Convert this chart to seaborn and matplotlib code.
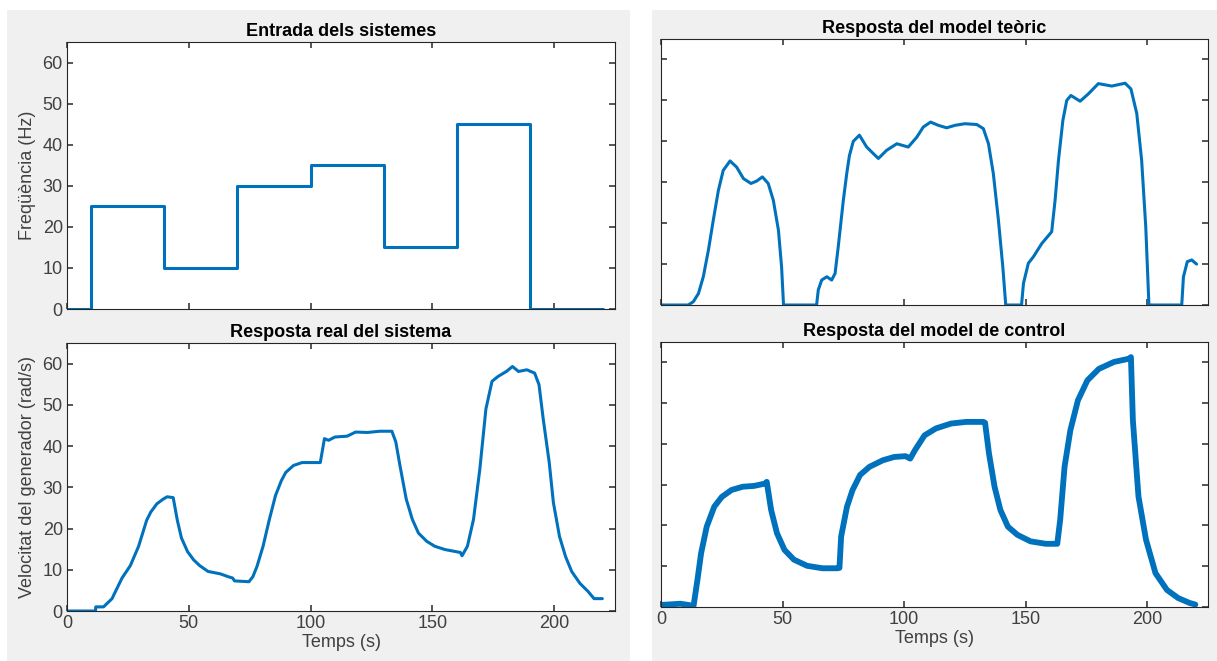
import numpy as np
import pandas as pd
import matplotlib
matplotlib.use("Agg")
import matplotlib.pyplot as plt
import seaborn as sns
from matplotlib.patches import Rectangle

# --- dades llegides del gràfic ---
# entrada (esglaons)
t_entrada = [0, 10, 40, 70, 100, 130, 160, 190, 220]
f_entrada = [0, 25, 10, 30, 35, 15, 45, 0, 0]

# resposta real del sistema
t_real = [0, 11.7, 11.8, 15, 18.5, 19.3, 22.6, 26, 29.4, 32.7, 34.4, 36.9, 39.4, 41.1, 43.6,
          45.3, 47, 49.5, 52, 54.5, 57.9, 63, 66.3, 68, 68.8, 74.7, 76.3, 78, 80.5, 83,
          85.6, 88, 89.8, 93, 96.5, 100.8, 104, 105.7, 107.4, 110, 115, 118.5, 123.3,
          128.4, 133.4, 135, 136.7, 139.3, 141.8, 144.3, 147.7, 151, 155.2, 161.5, 162.2,
          164.4, 166.9, 169.5, 172, 174.5, 177, 180.4, 182.9, 185.4, 188.8, 192, 193.8,
          195.5, 198, 199.7, 202.2, 204.7, 207.2, 210.6, 214, 216.4, 219.8]
v_real = [0, 0, 1, 1, 3, 4, 8, 11, 15.7, 22, 24, 26, 27.1, 27.7, 27.5,
          22, 17.7, 14.4, 12.4, 11, 9.6, 9, 8.3, 8, 7.3, 7.1, 8.3, 10.8, 15.7, 22,
          28, 31.6, 33.6, 35.3, 36, 36, 36, 41.8, 41.4, 42.2, 42.4, 43.4, 43.3,
          43.6, 43.6, 41, 35.3, 27.1, 22.2, 18.9, 16.9, 15.7, 14.9, 14.2, 13.4,
          15.7, 22.2, 34.4, 49, 55.7, 56.9, 58.1, 59.3, 58.1, 58.5, 57.7, 54.9,
          46.7, 36, 26.3, 18.1, 13.2, 9.6, 6.7, 4.7, 3, 3]

# resposta del model teòric
t_teoric = [0, 11.2, 13.3, 15.4, 17.4, 19.5, 21.5, 23.6, 25.6, 28.4, 31.1, 33.9, 37, 39.4,
            41.7, 44.1, 46.2, 48.3, 49.6, 50.4, 64, 64.7, 66.1, 68.2, 70.2, 71.6, 72.9,
            75, 76.4, 77.5, 79.1, 81.6, 84.6, 89.4, 92.8, 97, 101.7, 105.2, 107.9, 110.9,
            114.1, 117.5, 120.9, 125, 129.9, 132.6, 134.7, 136.7, 138.8, 140.6, 141.8,
            148.3, 149.1, 151.1, 153.2, 156.6, 160.7, 162.1, 163.5, 165.3, 166.9, 168.6,
            172.4, 175.8, 179.9, 185.4, 190.9, 193.3, 195.7, 197.7, 199.4, 200.7, 214.2,
            214.9, 216.5, 218.3, 220.3]
v_teoric = [0, 0, 0.8, 2.8, 6.9, 13.4, 20.7, 28, 32.9, 35.2, 33.7, 30.9, 29.7, 30.3,
            31.3, 29.7, 25.6, 18.3, 9.3, 0, 0, 3.7, 6.1, 6.9, 6.1, 7.7, 14.2,
            25.6, 32.1, 36.5, 40, 41.5, 38.6, 35.8, 37.8, 39.4, 38.6, 41, 43.5, 44.7,
            43.9, 43.3, 43.9, 44.3, 44.1, 43.1, 39.4, 32.1, 20.7, 9.3, 0,
            0, 5.3, 10.2, 11.8, 15, 17.9, 25.6, 35.4, 45.1, 50, 51.2,
            49.8, 51.6, 54.1, 53.5, 54.2, 52.8, 46.8, 35.4, 19.1, 0, 0,
            6.9, 10.6, 11, 10]

# resposta del model de control
t_control = [0, 8, 13.4, 15, 16.5, 18.8, 21.9, 25, 29, 33.6, 38.3, 43, 43.5, 45.3, 47.7, 50.8,
             54.7, 60.1, 66.4, 72.6, 73.4, 74.1, 76.5, 78.8, 81.9, 85.8, 91.3, 95.9, 100.6,
             102.5, 104.5, 108.4, 113.1, 119.3, 125.5, 132.6, 133.3, 134.9, 137.2, 139.6,
             142.7, 146.6, 152, 158.3, 163, 164.2, 166, 168.4, 171.5, 175.4, 180.1, 186.3,
             192.5, 193.3, 194.1, 196.4, 199.5, 203.4, 208.1, 212.7, 217.4, 219.8]
v_control = [0.5, 0.8, 0.3, 6.7, 13.2, 19.7, 24.6, 27, 28.7, 29.5, 29.7, 30.3, 30.7, 23.8, 18.1, 14,
             11.6, 10.1, 9.5, 9.5, 9.6, 17.3, 24.6, 28.7, 32.4, 34.4, 36, 36.8, 37,
             36.4, 38.5, 42.1, 43.8, 45, 45.4, 45.4, 45.2, 37.7, 29.5, 23.8,
             19.7, 17.7, 16.1, 15.5, 15.5, 21.4, 34.4, 43.4, 50.7, 55.6, 58.4, 60.1,
             60.9, 61.3, 45.8, 27.1, 16.5, 8.3, 4.2, 2.2, 1, 0.6]

x_ticks = [0, 50, 100, 150, 200]
y_ticks = [0, 10, 20, 30, 40, 50, 60]

# --- estil ---
sns.set_theme(style="ticks")
plt.rcParams.update({
    "font.family": ["Liberation Sans", "DejaVu Sans"],
    "axes.edgecolor": "#262626",
    "axes.linewidth": 0.8,
    "xtick.direction": "in",
    "ytick.direction": "in",
    "xtick.top": True,
    "ytick.right": True,
    "xtick.major.size": 4.5,
    "ytick.major.size": 4.5,
    "xtick.color": "#404040",
    "ytick.color": "#404040",
    "xtick.labelsize": 13,
    "ytick.labelsize": 13,
    "lines.solid_joinstyle": "round",
    "lines.solid_capstyle": "round",
})
blau = "#0072BD"
gris = "#F0F0F0"

W, H = 1217, 661
fig = plt.figure(figsize=(W / 100, H / 100), dpi=100, facecolor="white")

# fons gris de les dues finestres
fig.patches.append(Rectangle((7 / W, 0), 623 / W, 651 / H, transform=fig.transFigure,
                             facecolor=gris, edgecolor="none", zorder=-10))
fig.patches.append(Rectangle((652 / W, 0), 565 / W, 651 / H, transform=fig.transFigure,
                             facecolor=gris, edgecolor="none", zorder=-10))


def eixos(x0, y0, x1, y1):
    return fig.add_axes([x0 / W, 1 - y1 / H, (x1 - x0) / W, (y1 - y0) / H])


ax1 = eixos(67, 42, 615, 309)
ax2 = eixos(67, 343, 615, 611)
ax3 = eixos(661, 39, 1208, 305)
ax4 = eixos(661, 342, 1208, 607)

df_e = pd.DataFrame({"t": t_entrada, "f": f_entrada})
sns.lineplot(data=df_e, x="t", y="f", ax=ax1, color=blau, linewidth=2.2,
             drawstyle="steps-post", estimator=None)
sns.lineplot(x=t_real, y=v_real, ax=ax2, color=blau, linewidth=2.2, estimator=None)
sns.lineplot(x=t_teoric, y=v_teoric, ax=ax3, color=blau, linewidth=2.2, estimator=None)
sns.lineplot(x=t_control, y=v_control, ax=ax4, color=blau, linewidth=4.2, estimator=None)

titols = ["Entrada dels sistemes", "Resposta real del sistema",
          "Resposta del model teòric", "Resposta del model de control"]
for ax, tit in zip([ax1, ax2, ax3, ax4], titols):
    ax.set_facecolor("white")
    ax.set_xlim(0, 225)
    ax.set_ylim(0, 65)
    ax.set_xticks(x_ticks)
    ax.set_yticks(y_ticks)
    ax.set_title(tit, fontsize=13, fontweight="bold", color="black", pad=4)
    ax.set_xlabel("")
    ax.set_ylabel("")
    for s in ax.spines.values():
        s.set_visible(True)
    ax.tick_params(pad=3)

ax1.set_xticklabels([])
ax3.set_xticklabels([])
ax3.set_yticklabels([])
ax4.set_yticklabels([])

ax1.set_ylabel("Freqüència (Hz)", fontsize=13, color="#404040", labelpad=5)
ax2.set_ylabel("Velocitat del generador (rad/s)", fontsize=13, color="#404040", labelpad=5)
ax2.set_xlabel("Temps (s)", fontsize=13, color="#404040", labelpad=1)
ax4.set_xlabel("Temps (s)", fontsize=13, color="#404040", labelpad=1)

fig.savefig("out.png", dpi=100, facecolor="white")
